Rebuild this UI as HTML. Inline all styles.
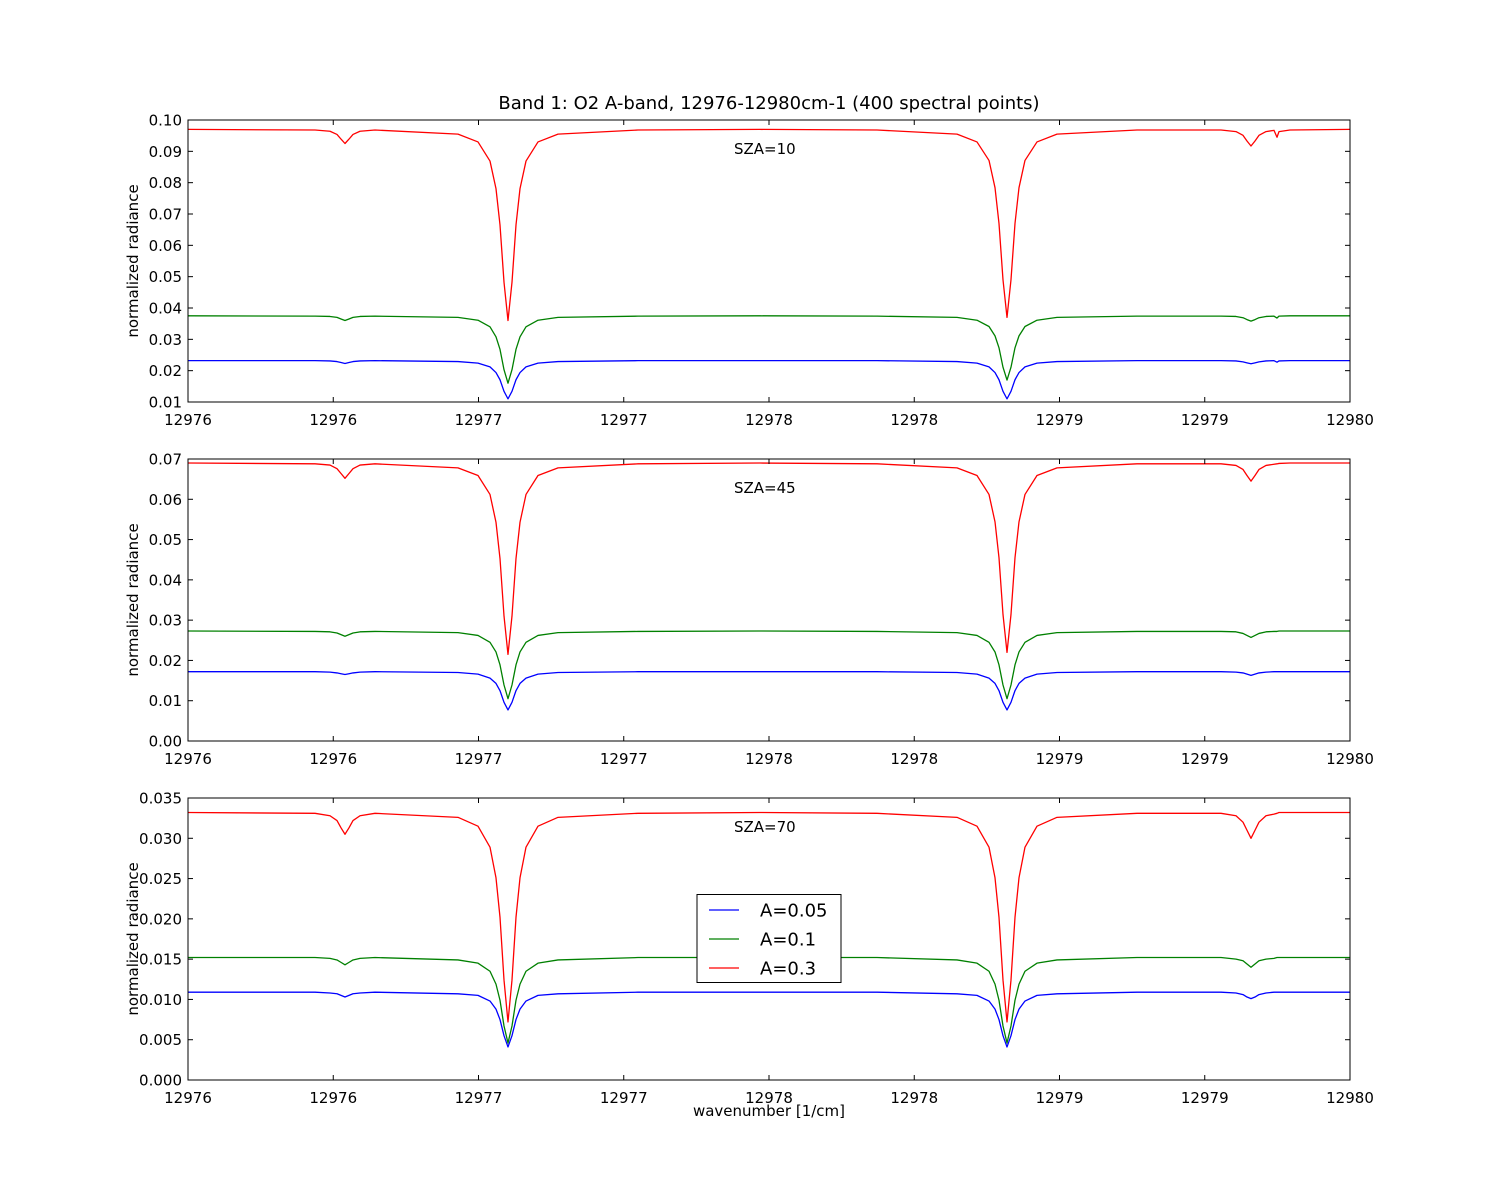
<!DOCTYPE html>
<html><head><meta charset="utf-8"><style>
body{margin:0;background:#fff}
svg{display:block;font-family:"DejaVu Sans","Liberation Sans",sans-serif}
</style></head><body>
<svg id="chart" width="1500" height="1200" viewBox="0 0 1500 1200" xmlns="http://www.w3.org/2000/svg">
<rect width="1500" height="1200" fill="#fff"/>
<text x="769" y="109" font-size="18" text-anchor="middle">Band 1: O2 A-band, 12976-12980cm-1 (400 spectral points)</text>
<text x="769" y="1116" font-size="15" text-anchor="middle">wavenumber [1/cm]</text>
</svg>
<script>
const wavenumbers=[12976,12976.4372,12976.4888,12976.5129,12976.5267,12976.5404,12976.5542,12976.5680,12976.5921,12976.6437,
12976.9294,12976.9983,12977.0396,12977.0602,12977.0740,12977.0878,12977.1015,12977.1153,12977.1291,12977.1429,12977.1635,12977.2048,12977.2737,12977.5491,
12977.9690,
12978.3718,12978.6472,12978.7160,12978.7573,12978.7780,12978.7917,12978.8055,12978.8193,12978.8330,12978.8468,12978.8606,12978.8812,12978.9225,12978.9914,12979.2668,
12979.5559,12979.6076,12979.6317,12979.6454,12979.6592,12979.6730,12979.6867,12979.7108,
12979.7384,12979.7487,12979.7556,12979.7935,12980];
const xTickValues=[12976,12976.5,12977,12977.5,12978,12978.5,12979,12979.5,12980];
const xTickLabels=["12976","12976","12977","12977","12978","12978","12979","12979","12980"];
const seriesNames=["A=0.05","A=0.1","A=0.3"];
const seriesColors=["#0000ff","#008000","#ff0000"];
const panelLabels=["SZA=10","SZA=45","SZA=70"];
const p1Blue=[.0232,.0232,.0231,.0229,.0226,.0223,.0226,.0229,.0231,.0232,.0229,.0224,.0212,.0194,.0171,.0134,.011,.0134,.0171,.0194,.0212,.0224,.0229,.0232,.0232,.0232,.0229,.0224,.0212,.0194,.0171,.0134,.011,.0134,.0171,.0194,.0212,.0224,.0229,.0232,.0232,.0231,.0228,.0225,.0222,.0225,.0228,.0231,.0232,.0227,.0231,.0232,.0232];
const p1Green=[.0375,.0374,.0373,.0370,.0365,.036,.0365,.0370,.0373,.0374,.0370,.0361,.0340,.0308,.0268,.0203,.016,.0203,.0268,.0308,.0340,.0361,.0370,.0374,.0375,.0374,.0370,.0361,.0341,.0311,.0273,.0211,.017,.0211,.0273,.0311,.0341,.0361,.0370,.0374,.0374,.0373,.0369,.0363,.0358,.0363,.0369,.0373,.0374,.0368,.0374,.0375,.0375];
const p1Red=[.097,.0968,.0964,.0954,.0939,.0925,.0939,.0954,.0964,.0968,.0955,.0930,.0869,.0781,.0665,.0482,.036,.0482,.0665,.0781,.0869,.0930,.0955,.0968,.097,.0968,.0955,.0930,.0871,.0784,.067,.049,.037,.049,.067,.0784,.0871,.0930,.0955,.0968,.0968,.0963,.0951,.0933,.0917,.0933,.0951,.0963,.0967,.0945,.0963,.0968,.097];
const p2Blue=[.0172,.0172,.0171,.0169,.0167,.0165,.0167,.0169,.0171,.0172,.0170,.0166,.0156,.0143,.0125,.0096,.0077,.0096,.0125,.0143,.0156,.0166,.0170,.0172,.0172,.0172,.0170,.0166,.0156,.0143,.0125,.0096,.0077,.0096,.0125,.0143,.0156,.0166,.0170,.0172,.0172,.0171,.0169,.0166,.0163,.0166,.0169,.0171,.0172,.0172,.0172,.0172,.0172];
const p2Green=[.0273,.0272,.0271,.0268,.0264,.026,.0264,.0268,.0271,.0272,.0269,.0262,.0245,.0221,.0189,.0139,.0105,.0139,.0189,.0221,.0245,.0262,.0269,.0272,.0273,.0272,.0269,.0262,.0245,.0221,.0189,.0139,.0105,.0139,.0189,.0221,.0245,.0262,.0269,.0272,.0272,.0271,.0267,.0262,.0257,.0262,.0267,.0271,.0272,.0272,.0273,.0273,.0273];
const p2Red=[.069,.0688,.0685,.0676,.0664,.0652,.0664,.0676,.0685,.0688,.0678,.0659,.0612,.0543,.0453,.0310,.0215,.0310,.0453,.0543,.0612,.0659,.0678,.0688,.069,.0688,.0678,.0659,.0612,.0544,.0455,.0314,.022,.0314,.0455,.0544,.0612,.0659,.0678,.0688,.0688,.0684,.0674,.0659,.0645,.0659,.0674,.0684,.0687,.0688,.0689,.069,.069];
const p3Blue=[.0109,.0109,.0108,.0107,.0105,.0103,.0105,.0107,.0108,.0109,.0107,.0105,.0098,.0088,.0075,.0055,.0041,.0055,.0075,.0088,.0098,.0105,.0107,.0109,.0109,.0109,.0107,.0105,.0098,.0088,.0075,.0055,.0041,.0055,.0075,.0088,.0098,.0105,.0107,.0109,.0109,.0108,.0106,.0103,.0101,.0103,.0106,.0108,.0109,.0109,.0109,.0109,.0109];
const p3Green=[.0152,.0152,.0151,.0149,.0146,.0143,.0146,.0149,.0151,.0152,.0149,.0145,.0135,.0119,.0099,.0067,.0046,.0067,.0099,.0119,.0135,.0145,.0149,.0152,.0152,.0152,.0149,.0145,.0135,.0119,.0099,.0067,.0046,.0067,.0099,.0119,.0135,.0145,.0149,.0152,.0152,.0150,.0148,.0144,.0140,.0144,.0148,.0150,.0151,.0152,.0152,.0152,.0152];
const p3Red=[.0332,.0331,.0328,.0322,.0313,.0305,.0313,.0322,.0328,.0331,.0326,.0315,.0289,.0251,.0202,.0124,.0072,.0124,.0202,.0251,.0289,.0315,.0326,.0331,.0332,.0331,.0326,.0315,.0289,.0251,.0202,.0124,.0072,.0124,.0202,.0251,.0289,.0315,.0326,.0331,.0331,.0328,.0320,.0310,.030,.0310,.0320,.0328,.0330,.0331,.0332,.0332,.0332];
const p1YTicks=[0.01,0.02,0.03,0.04,0.05,0.06,0.07,0.08,0.09,0.10];
const p1YLabels=["0.01","0.02","0.03","0.04","0.05","0.06","0.07","0.08","0.09","0.10"];
const p2YTicks=[0,0.01,0.02,0.03,0.04,0.05,0.06,0.07];
const p2YLabels=["0.00","0.01","0.02","0.03","0.04","0.05","0.06","0.07"];
const p3YTicks=[0,0.005,0.01,0.015,0.02,0.025,0.03,0.035];
const p3YLabels=["0.000","0.005","0.010","0.015","0.020","0.025","0.030","0.035"];

const NS="http://www.w3.org/2000/svg";
const svg=document.getElementById('chart');
function mk(tag,attrs,parent){const e=document.createElementNS(NS,tag);for(const k in attrs)e.setAttribute(k,attrs[k]);(parent||svg).appendChild(e);return e;}
const X0=188,X1=1350;
function xScale(w){return X0+(w-12976)/4*(X1-X0);}
const panels=[
 {top:120,bottom:402,ymin:0.01,ymax:0.10,ticks:p1YTicks,labels:p1YLabels,series:[p1Blue,p1Green,p1Red]},
 {top:459,bottom:741,ymin:0,ymax:0.07,ticks:p2YTicks,labels:p2YLabels,series:[p2Blue,p2Green,p2Red]},
 {top:798,bottom:1080,ymin:0,ymax:0.035,ticks:p3YTicks,labels:p3YLabels,series:[p3Blue,p3Green,p3Red]}
];
panels.forEach((p,pi)=>{
  const g=mk('g',{});
  
  
  const yScale=v=>p.bottom-(v-p.ymin)/(p.ymax-p.ymin)*(p.bottom-p.top);
  const clipId='clip'+pi;
  const cp=mk('clipPath',{id:clipId},g);
  mk('rect',{x:X0,y:p.top,width:X1-X0,height:p.bottom-p.top},cp);
  p.series.forEach((s,si)=>{
    let d='';
    s.forEach((v,i)=>{d+=(i?'L':'M')+xScale(wavenumbers[i]).toFixed(2)+','+yScale(v).toFixed(2);});
    const path=mk('path',{d:d,fill:'none',stroke:seriesColors[si],'stroke-width':1.3,'stroke-linejoin':'round','clip-path':'url(#'+clipId+')'},g);
    
    
  });
  const frame=mk('rect',{x:X0,y:p.top,width:X1-X0,height:p.bottom-p.top,fill:'none',stroke:'#000','stroke-width':1},g);
  
  
  p.ticks.forEach((t,i)=>{
    const y=yScale(t);
    mk('line',{x1:X0,x2:X0+5,y1:y,y2:y,stroke:'#000'},g);
    mk('line',{x1:X1,x2:X1-5,y1:y,y2:y,stroke:'#000'},g);
    const tx=mk('text',{x:X0-6,y:y+5.5,'font-size':15,'text-anchor':'end'},g);
    tx.textContent=p.labels[i];
    
    
  });
  xTickValues.forEach((t,i)=>{
    const x=xScale(t);
    mk('line',{x1:x,x2:x,y1:p.bottom,y2:p.bottom-5,stroke:'#000'},g);
    mk('line',{x1:x,x2:x,y1:p.top,y2:p.top+5,stroke:'#000'},g);
    const tx=mk('text',{x:x,y:p.bottom+23,'font-size':15,'text-anchor':'middle'},g);
    tx.textContent=xTickLabels[i];
    
    
  });
  const cy=(p.top+p.bottom)/2;
  const yl=mk('text',{x:138,y:cy,'font-size':15,'text-anchor':'middle',transform:'rotate(-90 138 '+cy+')'},g);
  yl.textContent='normalized radiance';
  
  
  const sz=mk('text',{x:734,y:p.top+34,'font-size':15},g);
  sz.textContent=panelLabels[pi];
  
  
});
const lg=mk('g',{});


mk('rect',{x:697,y:894.5,width:144,height:88,fill:'#fff',stroke:'#000','stroke-width':1},lg);
seriesNames.forEach((n,i)=>{
  const y=910+i*29;
  const ln=mk('line',{x1:709,x2:739,y1:y,y2:y,stroke:seriesColors[i],'stroke-width':1.3},lg);
  
  
  const t=mk('text',{x:760,y:y+6.5,'font-size':18},lg);
  t.textContent=n;
  
  
});
</script>
</body></html>
